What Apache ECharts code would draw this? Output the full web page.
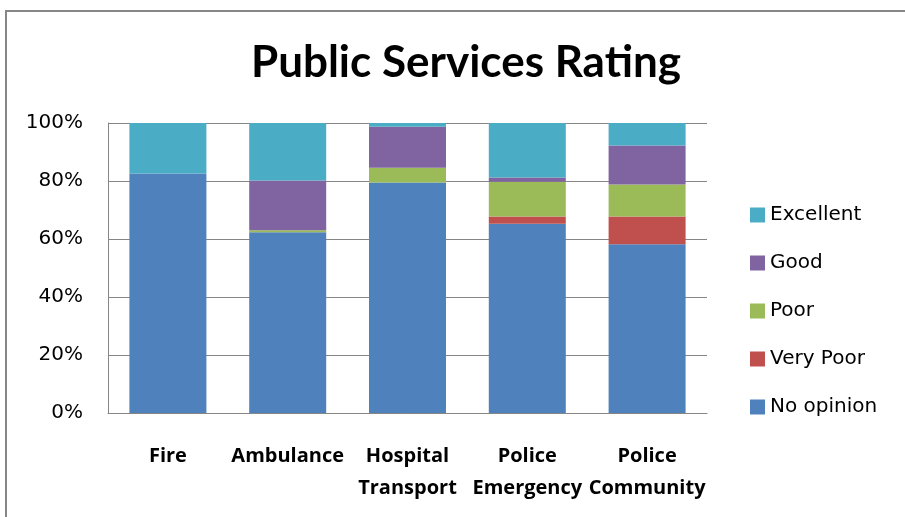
<!DOCTYPE html>
<html>
<head>
<meta charset="utf-8">
<script src="https://cdn.jsdelivr.net/npm/echarts@6/dist/echarts.min.js"></script>
<style>
    html, body { margin: 0; padding: 0; background: #fff; }
    #chart { width: 905px; height: 517px; }
</style>
</head>
<body>
<div id="chart"></div>
<script>
// categories and stacked shares (percent)
var categories = ['Fire', 'Ambulance', 'Hospital\nTransport', 'Police\nEmergency', 'Police\nCommunity'];
var noOpinion = [82.6, 62.3, 79.5, 65.3, 58.2];
var veryPoor = [0, 0, 0, 2.5, 9.6];
var poor = [0, 0.7, 5.1, 11.9, 11.0];
var good = [0, 17.2, 14.1, 1.5, 13.4];
var excellent = [17.4, 19.8, 1.3, 18.8, 7.8];
var yTicks = [0, 20, 40, 60, 80, 100];

var legendOrder = ['Excellent', 'Good', 'Poor', 'Very Poor', 'No opinion'];

function bar(name, data, color) {
    return {
        name: name,
        type: 'bar',
        stack: 'total',
        barWidth: 77,
        data: data,
        itemStyle: { color: color },
        emphasis: { disabled: true }
    };
}

var myChart = echarts.init(document.getElementById('chart'));
myChart.setOption({
    animation: false,
    title: {
        text: 'Public Services Rating',
        left: 461,
        textAlign: 'center',
        top: 36,
        textStyle: {
            fontFamily: 'Lato',
            fontWeight: 'bold',
            fontSize: 44,
            color: '#000'
        }
    },
    graphic: [
        { type: 'line', shape: { x1: 6, y1: 11, x2: 6, y2: 517 }, style: { stroke: '#868686', lineWidth: 2 } },
        { type: 'line', shape: { x1: 5, y1: 11, x2: 905, y2: 11 }, style: { stroke: '#868686', lineWidth: 2 } }
    ],
    legend: {
        orient: 'vertical',
        left: 745,
        top: 200,
        itemGap: 28,
        itemWidth: 15,
        itemHeight: 15,
        icon: 'rect',
        data: legendOrder,
        textStyle: {
            fontFamily: 'DejaVu Sans',
            fontSize: 20,
            color: '#000',
            padding: [0, 0, 0, 0]
        }
    },
    grid: {
        left: 108,
        right: 198,
        top: 123,
        bottom: 104
    },
    xAxis: {
        type: 'category',
        data: categories,
        axisLine: { lineStyle: { color: '#868686', width: 1 } },
        axisTick: { show: false },
        axisLabel: {
            margin: 27,
            interval: 0,
            fontFamily: 'Open Sans',
            fontWeight: 'bold',
            fontSize: 20,
            lineHeight: 32,
            color: '#000'
        }
    },
    yAxis: {
        type: 'value',
        min: yTicks[0],
        max: yTicks[yTicks.length - 1],
        interval: 20,
        axisLine: { show: true, lineStyle: { color: '#868686', width: 1 } },
        axisTick: { show: false },
        splitLine: { lineStyle: { color: '#868686', width: 1 } },
        axisLabel: {
            margin: 25,
            formatter: '{value}%',
            fontFamily: 'DejaVu Sans',
            fontSize: 20,
            color: '#000'
        }
    },
    series: [
        bar('No opinion', noOpinion, '#4F81BD'),
        bar('Very Poor', veryPoor, '#C0504D'),
        bar('Poor', poor, '#9BBB59'),
        bar('Good', good, '#8064A2'),
        bar('Excellent', excellent, '#4BACC6')
    ]
});
</script>
</body>
</html>
